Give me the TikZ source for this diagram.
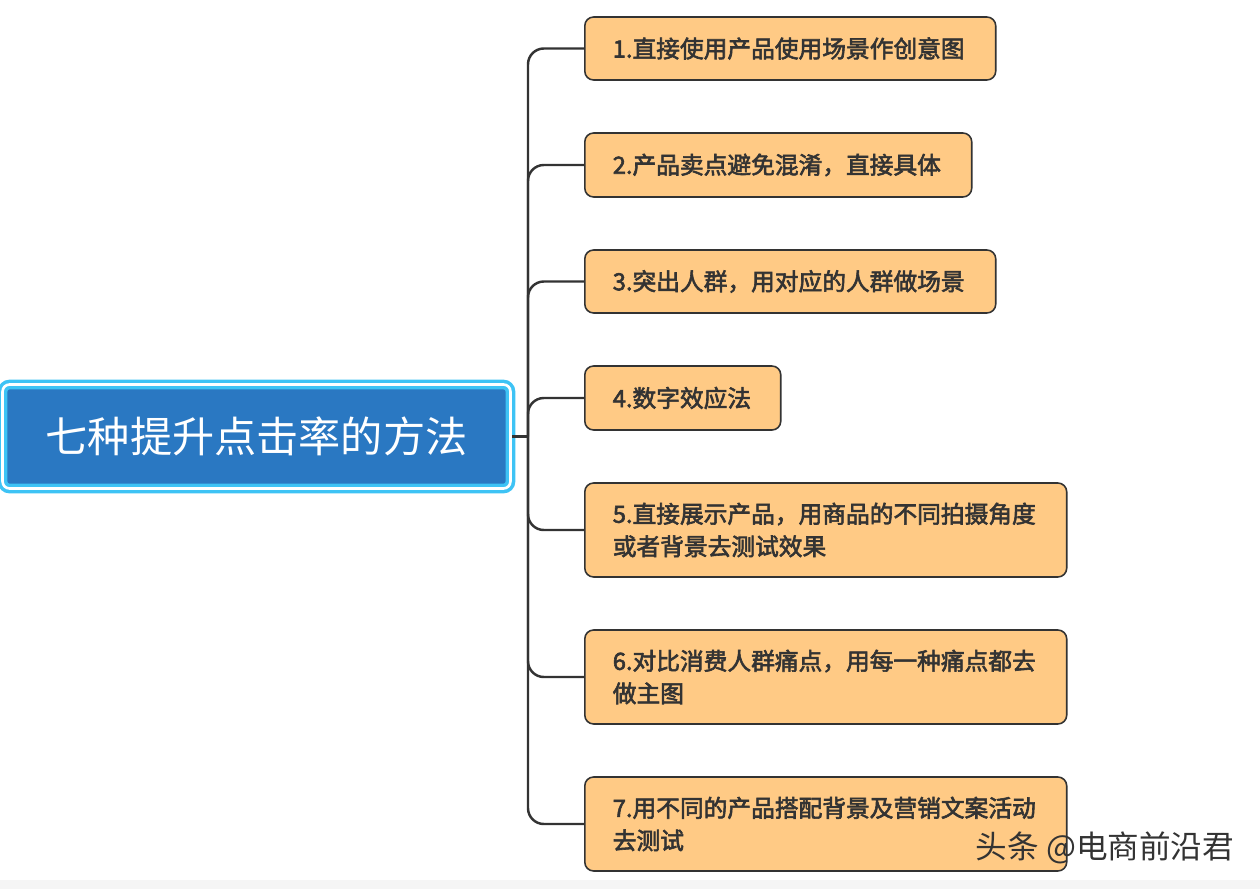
\documentclass[tikz,border=0pt]{standalone}
\usepackage{fontspec}
\setmainfont{Noto Sans CJK SC}[AutoFakeBold=2.5]
\usetikzlibrary{calc}
\definecolor{rootBlue}{HTML}{2A78C2}
\definecolor{rootRim}{HTML}{3EC3F5}
\definecolor{itemFill}{HTML}{FFCA85}
\definecolor{inkGray}{HTML}{333333}
\tikzstyle{branch}=[line width=1.4pt, draw=inkGray, rounded corners=9pt]
\tikzstyle{rootBox}=[rectangle, rounded corners=4pt, fill=rootBlue, draw=rootRim, line width=2pt, double=white, double distance=1.5pt, minimum width=10.16cm, minimum height=2.08cm, text=white, font=\fontsize{24}{28}\selectfont]
\tikzstyle{item}=[rectangle, rounded corners=5pt, fill=itemFill, draw=inkGray, line width=0.9pt, anchor=west, inner xsep=0.56cm, align=left, text=inkGray, font=\fontsize{13.5}{18.5}\selectfont\bfseries]
\begin{document}
\begin{tikzpicture}[x=0.02cm, y=-0.02cm]
      \useasboundingbox (0,0) rectangle (1260,889);
      \fill[gray!8] (0,880) rectangle (1260,889);
      \node(root) [rootBox] at (256.5,436.5){七种提升点击率的方法};
      \node(b1) [item, minimum width=8.22cm, minimum height=1.26cm, text width=7.1cm] at (584,48.5){1.直接使用产品使用场景作创意图};
      \node(b2) [item, minimum width=7.74cm, minimum height=1.28cm, text width=6.62cm] at (584,165){2.产品卖点避免混淆，直接具体};
      \node(b3) [item, minimum width=8.22cm, minimum height=1.26cm, text width=7.1cm] at (584,281.5){3.突出人群，用对应的人群做场景};
      \node(b4) [item, minimum width=3.92cm, minimum height=1.28cm, text width=2.8cm] at (584,398){4.数字效应法};
      \node(b5) [item, minimum width=9.64cm, minimum height=1.88cm, text width=8.52cm] at (584,530){5.直接展示产品，用商品的不同拍摄角度\\或者背景去测试效果};
      \node(b6) [item, minimum width=9.64cm, minimum height=1.88cm, text width=8.52cm] at (584,677){6.对比消费人群痛点，用每一种痛点都去\\做主图};
      \node(b7) [item, minimum width=9.64cm, minimum height=1.88cm, text width=8.52cm] at (584,824){7.用不同的产品搭配背景及营销文案活动\\去测试};
      \coordinate(trunk) at (528,436.5);
      \draw[branch] (root.east) to (trunk);
      \draw[branch] (trunk) |- (b1.west);
      \draw[branch] (trunk) |- (b2.west);
      \draw[branch] (trunk) |- (b3.west);
      \draw[branch] (trunk) |- (b4.west);
      \draw[branch] (trunk) |- (b5.west);
      \draw[branch] (trunk) |- (b6.west);
      \draw[branch] (trunk) |- (b7.west);
      \node(mark) [text=inkGray, font=\fontsize{18}{20}\selectfont] at (1105,848){头条 @电商前沿君};
    \end{tikzpicture}
\end{document}
